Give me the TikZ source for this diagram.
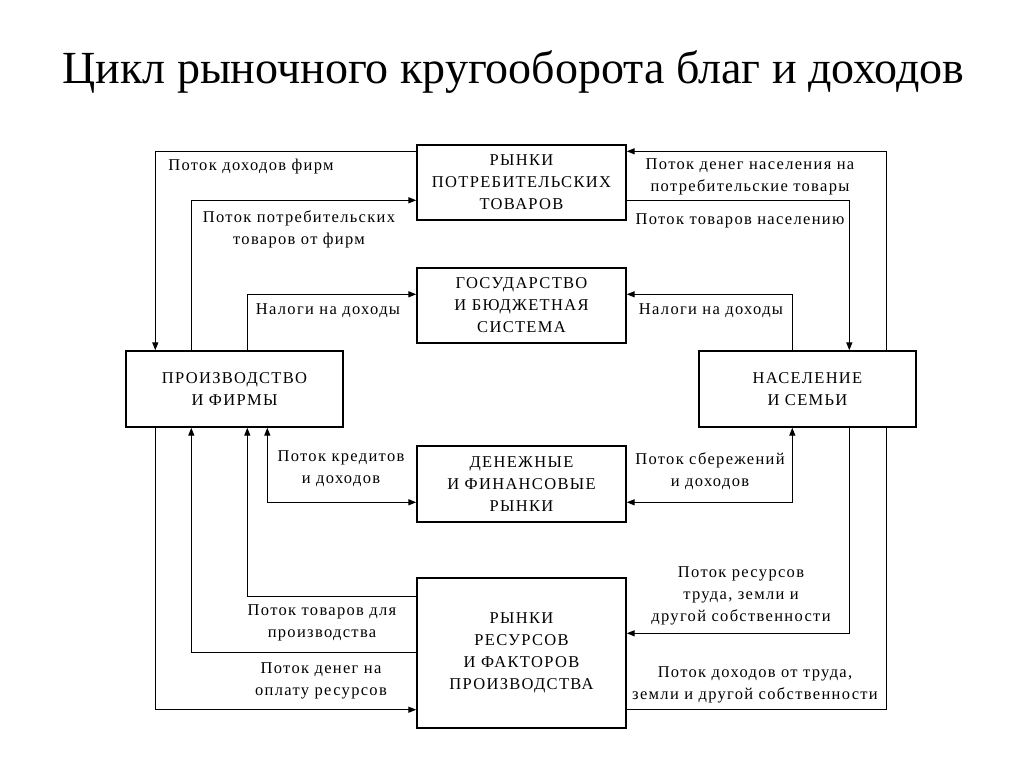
\documentclass[tikz,border=0pt]{standalone}
\usepackage{fontspec}
\setmainfont{Liberation Serif}
\newfontfamily\lblfont[LetterSpace=8]{Liberation Serif}
\usetikzlibrary{arrows.meta}
\begin{document}
\begin{tikzpicture}[x=1pt,y=-1pt,
  box/.style={draw,line width=1.4pt,inner sep=0pt,align=center,
    font=\lblfont\fontsize{16.5}{22}\selectfont},
  lbl/.style={inner sep=0pt,align=center,font=\lblfont\fontsize{16.5}{22}\selectfont},
  flow/.style={line width=1.3pt},
  arr/.style={flow,-{Triangle[length=8pt,width=6pt]}},
  darr/.style={flow,{Triangle[length=8pt,width=6pt]}-{Triangle[length=8pt,width=6pt]}}]
\useasboundingbox[fill=white] (0,0) rectangle (1024,767);
\node[inner sep=0pt,anchor=base,font=\fontsize{46}{50}\selectfont] (title) at (513.5,84) {Цикл рыночного кругооборота благ и доходов};
% boxes
\node[box,minimum width=209pt,minimum height=75pt] (cons) at (521.5,182.5) {РЫНКИ\\ПОТРЕБИТЕЛЬСКИХ\\ТОВАРОВ};
\node[box,minimum width=209pt,minimum height=75pt] (gov) at (521.5,305.5) {ГОСУДАРСТВО\\И БЮДЖЕТНАЯ\\СИСТЕМА};
\node[box,minimum width=217pt,minimum height=76pt] (prod) at (234.5,389) {ПРОИЗВОДСТВО\\И ФИРМЫ};
\node[box,minimum width=217pt,minimum height=76pt] (hh) at (807.5,389) {НАСЕЛЕНИЕ\\И СЕМЬИ};
\node[box,minimum width=209pt,minimum height=76pt] (fin) at (521.5,484) {ДЕНЕЖНЫЕ\\И ФИНАНСОВЫЕ\\РЫНКИ};
\node[box,minimum width=209pt,minimum height=150pt] (res) at (521.5,653) {РЫНКИ\\РЕСУРСОВ\\И ФАКТОРОВ\\ПРОИЗВОДСТВА};
% connectors, left top
\draw[arr] ([yshift=-7pt]cons.north west) -| ([xshift=30pt]prod.north west);
\draw[arr] ([xshift=66pt]prod.north west) |- ([yshift=-56pt]cons.north west);
\draw[arr] ([xshift=122pt]prod.north west) |- ([yshift=-27pt]gov.north west);
% right top
\draw[arr] ([xshift=188pt]hh.north west) |- ([yshift=-7pt]cons.north east);
\draw[arr] ([yshift=-56pt]cons.north east) -| ([xshift=151pt]hh.north west);
\draw[arr] ([xshift=94pt]hh.north west) |- ([yshift=-27pt]gov.north east);
% left bottom
\draw[arr] ([xshift=30pt]prod.south west) |- ([yshift=19pt]res.south west);
\draw[arr] ([yshift=-75pt]res.north west) -| ([xshift=66pt]prod.south west);
\draw[arr] ([yshift=-19pt]res.north west) -| ([xshift=122pt]prod.south west);
\draw[darr] ([xshift=142pt]prod.south west) |- ([yshift=-57pt]fin.north west);
% right bottom
\draw[darr] ([xshift=94pt]hh.south west) |- ([yshift=-57pt]fin.north east);
\draw[arr] ([xshift=151pt]hh.south west) |- ([yshift=-56pt]res.north east);
\draw[flow] ([xshift=188pt]hh.south west) |- ([yshift=19pt]res.south east);
% labels
\node[lbl] (l1) at (251,167) {Поток доходов фирм};
\node[lbl] (l2) at (299,229) {Поток потребительских\\товаров от фирм};
\node[lbl] (l3) at (328,311) {Налоги на доходы};
\node[lbl] (l4) at (750,177) {Поток денег населения на\\потребительские товары};
\node[lbl] (l5) at (740,221) {Поток товаров населению};
\node[lbl] (l6) at (711,311) {Налоги на доходы};
\node[lbl] (l7) at (341,469) {Поток кредитов\\и доходов};
\node[lbl] (l8) at (710,471) {Поток сбережений\\и доходов};
\node[lbl] (l9) at (322,623) {Поток товаров для\\производства};
\node[lbl] (l10) at (321,681) {Поток денег на\\оплату ресурсов};
\node[lbl] (l11) at (741,596) {Поток ресурсов\\труда, земли и\\другой собственности};
\node[lbl] (l12) at (755,685) {Поток доходов от труда,\\земли и другой собственности};
\end{tikzpicture}
\end{document}
